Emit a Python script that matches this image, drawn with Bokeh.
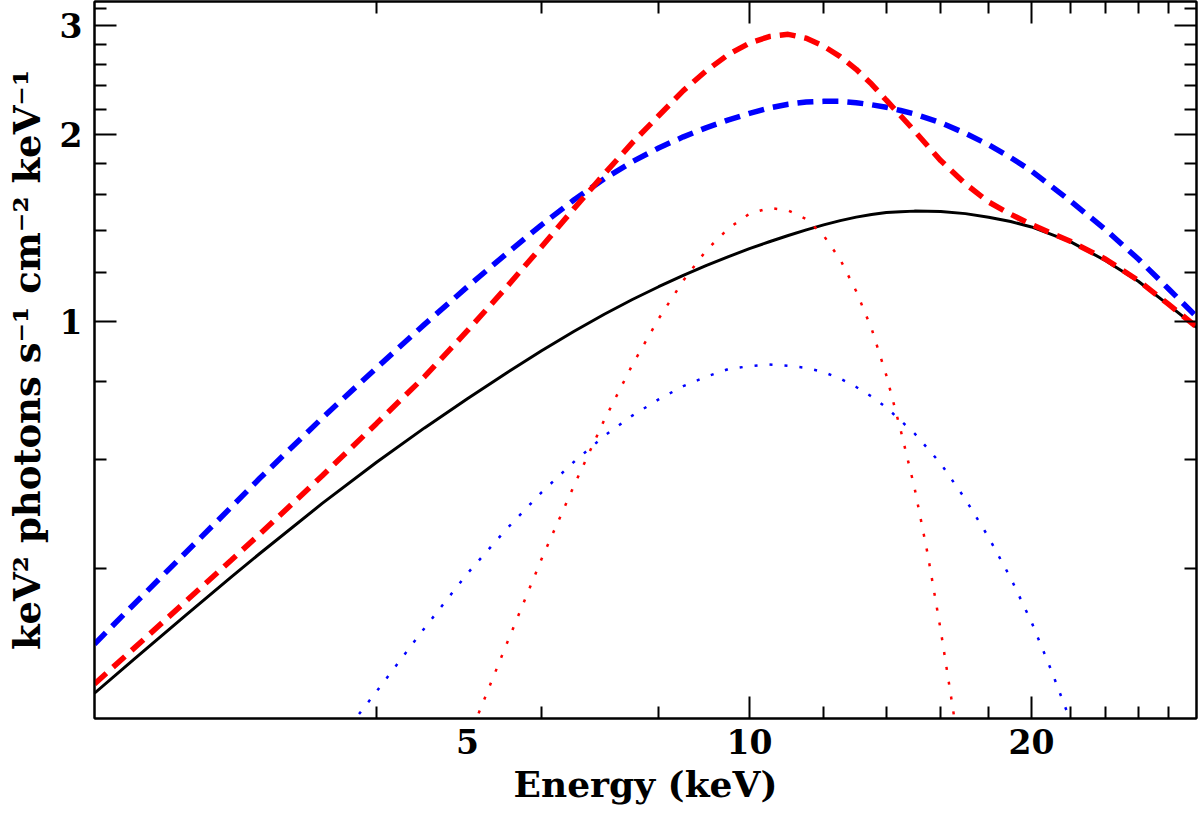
from bokeh.plotting import figure
from bokeh.models import (LogAxis, FixedTicker, BasicTickFormatter, Grid,
                          CustomLabelingPolicy)
from bokeh.embed import file_html
from bokeh.resources import INLINE

# ---------------- data ----------------
energy = [2.0, 2.2, 2.5, 2.8, 3.0, 3.5, 4.0, 4.5, 5.0, 5.5, 6.0, 6.5, 7.0, 7.5,
          8.0, 8.5, 9.0, 9.5, 10.0, 10.5, 11.0, 11.5, 12.0, 12.5, 13.0, 13.5,
          14.0, 14.5, 15.0, 16.0, 17.0, 18.0, 19.0, 20.0, 22.0, 24.0, 26.0,
          28.0, 30.0]

continuum = [0.2520, 0.2852, 0.3361, 0.3880, 0.4227, 0.5095, 0.5935, 0.6743,
             0.7511, 0.8260, 0.8977, 0.9652, 1.0280, 1.0857, 1.1384, 1.1871,
             1.2320, 1.2732, 1.3110, 1.3453, 1.3769, 1.4060, 1.4318, 1.4548,
             1.4737, 1.4887, 1.4990, 1.5039, 1.5070, 1.5049, 1.4931, 1.4733,
             1.4500, 1.4212, 1.3459, 1.2538, 1.1620, 1.0640, 0.9790]

red_total = [0.2608, 0.2970, 0.3537, 0.4131, 0.4543, 0.5645, 0.6856, 0.8154,
             0.9670, 1.1348, 1.3204, 1.5223, 1.7305, 1.9428, 2.1466, 2.3567,
             2.5389, 2.6958, 2.8112, 2.8800, 2.9040, 2.8617, 2.7788, 2.6734,
             2.5507, 2.4147, 2.2740, 2.1467, 2.0300, 1.8176, 1.6680, 1.5591,
             1.4896, 1.4338, 1.3474, 1.2607, 1.1650, 1.0670, 0.9810]

blue_total = [0.3024, 0.3496, 0.4240, 0.5029, 0.5588, 0.6995, 0.8425, 0.9900,
              1.1381, 1.2857, 1.4324, 1.5717, 1.6990, 1.8105, 1.9050, 1.9853,
              2.0546, 2.1140, 2.1665, 2.2094, 2.2407, 2.2589, 2.2647, 2.2647,
              2.2534, 2.2363, 2.2157, 2.1888, 2.1612, 2.0919, 2.0113, 1.9273,
              1.8380, 1.7489, 1.5651, 1.4064, 1.2618, 1.1300, 1.0187]

red_line_energy = [5.0, 5.5, 6.0, 6.5, 7.0, 7.5, 8.0, 8.5, 9.0, 9.5, 10.0, 10.5,
                   11.0, 11.5, 12.0, 12.5, 13.0, 13.5, 14.0, 14.5, 15.0, 15.5,
                   16.0, 16.5, 17.0]
red_line = [0.2109, 0.3011, 0.4145, 0.5449, 0.6943, 0.8520, 1.0108, 1.1647,
            1.3045, 1.4139, 1.4918, 1.5249, 1.5107, 1.4635, 1.3766, 1.2594,
            1.1193, 0.9747, 0.8193, 0.6688, 0.5408, 0.4214, 0.3184, 0.2363, 0.1700]

blue_line_energy = [3.5, 4.0, 4.5, 5.0, 5.5, 6.0, 6.5, 7.0, 7.5, 8.0, 8.5, 9.0,
                    9.5, 10.0, 10.5, 11.0, 11.5, 12.0, 12.5, 13.0, 13.5, 14.0,
                    15.0, 16.0, 17.0, 18.0, 19.0, 20.0, 21.0, 22.0, 23.0]
blue_line = [0.1956, 0.2536, 0.3208, 0.3928, 0.4627, 0.5309, 0.5948, 0.6545,
             0.7058, 0.7494, 0.7874, 0.8157, 0.8388, 0.8477, 0.8530, 0.8490,
             0.8425, 0.8295, 0.8095, 0.7847, 0.7575, 0.7274, 0.6609, 0.5908,
             0.5176, 0.4493, 0.3864, 0.3281, 0.2741, 0.2278, 0.1910]

x_major = [10, 20]
x_labels = [5, 10, 20]
x_minor = [4, 6, 8, 12, 14, 16, 18, 22, 24, 26, 28]
y_major = [1, 2, 3]
y_minor = [0.4, 0.6, 0.8, 1.2, 1.4, 1.6, 1.8, 2.2, 2.4, 2.6, 2.8, 3.2]

FONT = "DejaVu Serif"

p = figure(frame_width=1102, frame_height=717,
           x_axis_type="log", y_axis_type="log",
           x_axis_location=None, y_axis_location=None,
           x_range=(2.0, 30.0), y_range=(0.2294, 3.28),
           output_backend="svg", toolbar_location=None,
           min_border_left=94, min_border_right=4,
           min_border_top=1, min_border_bottom=98)
p.outline_line_color = "black"
p.outline_line_width = 2
p.background_fill_color = "white"
p.border_fill_color = "white"
for g in p.select(type=Grid):
    g.visible = False
p.center = [c for c in p.center if not isinstance(c, Grid)]

NO_LABELS = "for (const i of indices) { indices.unset(i) }\nreturn indices"


def tick_axis(ticks, minor):
    return LogAxis(ticker=FixedTicker(ticks=ticks, minor_ticks=minor),
                   formatter=BasicTickFormatter(),
                   major_label_policy=CustomLabelingPolicy(code=NO_LABELS),
                   major_tick_in=22, major_tick_out=0,
                   minor_tick_in=12, minor_tick_out=0,
                   major_tick_line_width=2, minor_tick_line_width=2,
                   axis_line_width=2,
                   major_label_text_font_size="0px", major_label_standoff=0)


# tick-mark axes (no labels)
p.add_layout(tick_axis(x_major, x_minor), "below")
p.add_layout(tick_axis(x_major, x_minor), "above")
p.add_layout(tick_axis(y_major, y_minor), "right")

# bottom labels axis (no tick marks)
xlab = LogAxis(ticker=FixedTicker(ticks=x_labels, minor_ticks=[]),
               formatter=BasicTickFormatter(),
               major_tick_in=0, major_tick_out=0, minor_tick_in=0, minor_tick_out=0,
               axis_line_color=None, major_tick_line_color=None,
               minor_tick_line_color=None,
               major_label_standoff=10,
               major_label_text_font=FONT, major_label_text_font_style="bold",
               major_label_text_font_size="33px", major_label_text_color="black",
               axis_label="Energy (keV)", axis_label_standoff=6,
               axis_label_text_font=FONT, axis_label_text_font_style="bold",
               axis_label_text_font_size="36px", axis_label_text_color="black")
p.add_layout(xlab, "below")

# left axis with ticks and labels
yax = LogAxis(ticker=FixedTicker(ticks=y_major, minor_ticks=y_minor),
              formatter=BasicTickFormatter(),
              major_tick_in=22, major_tick_out=0,
              minor_tick_in=12, minor_tick_out=0,
              major_tick_line_width=2, minor_tick_line_width=2,
              axis_line_width=2,
              major_label_standoff=12,
              major_label_text_font=FONT, major_label_text_font_style="bold",
              major_label_text_font_size="33px", major_label_text_color="black",
              major_label_orientation="horizontal",
              axis_label="keV\u00b2 photons s\u207b\u00b9 cm\u207b\u00b2 keV\u207b\u00b9",
              axis_label_standoff=8,
              axis_label_text_font=FONT, axis_label_text_font_style="bold",
              axis_label_text_font_size="37px", axis_label_text_color="black")
p.add_layout(yax, "left")

# curves
p.line(energy, continuum, line_color="black", line_width=3)
p.line(blue_line_energy, blue_line, line_color="#0000ff", line_width=2.5,
       line_dash="3 12")
p.line(red_line_energy, red_line, line_color="#ff0000", line_width=2.5,
       line_dash="3 12")
p.line(energy, blue_total, line_color="#0000ff", line_width=5.5, line_dash="16 9")
p.line(energy, red_total, line_color="#ff0000", line_width=5.5, line_dash="16 9")

open("out.html", "w").write(file_html(p, INLINE))
